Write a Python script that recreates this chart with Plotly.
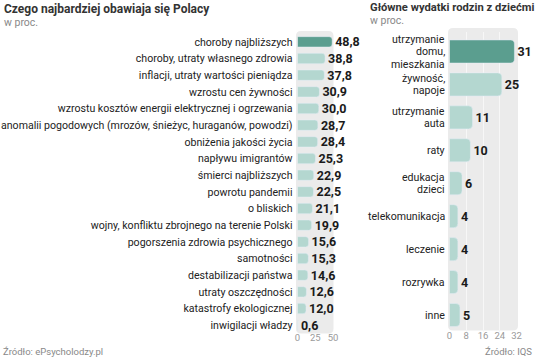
import plotly.graph_objects as go

# ---- data ----
left_categories = [
    "choroby najbliższych",
    "choroby, utraty własnego zdrowia",
    "inflacji, utraty wartości pieniądza",
    "wzrostu cen żywności",
    "wzrostu kosztów energii elektrycznej i ogrzewania",
    "anomalii pogodowych (mrozów, śnieżyc, huraganów, powodzi)",
    "obniżenia jakości życia",
    "napływu imigrantów",
    "śmierci najbliższych",
    "powrotu pandemii",
    "o bliskich",
    "wojny, konfliktu zbrojnego na terenie Polski",
    "pogorszenia zdrowia psychicznego",
    "samotności",
    "destabilizacji państwa",
    "utraty oszczędności",
    "katastrofy ekologicznej",
    "inwigilacji władzy",
]
left_values = [48.8, 38.8, 37.8, 30.9, 30.0, 28.7, 28.4, 25.3, 22.9, 22.5,
               21.1, 19.9, 15.6, 15.3, 14.6, 12.6, 12.0, 0.6]
left_ticks = [0, 25, 50]

right_categories = [
    "utrzymanie<br>domu,<br>mieszkania",
    "żywność,<br>napoje",
    "utrzymanie<br>auta",
    "raty",
    "edukacja<br>dzieci",
    "telekomunikacja",
    "leczenie",
    "rozrywka",
    "inne",
]
right_values = [31, 25, 11, 10, 6, 4, 4, 4, 5]
right_ticks = [0, 8, 16, 24, 32]

# ---- style ----
W, H = 536, 357
FONT = "Roboto, Liberation Sans, sans-serif"
DARK = "#5b9e8f"
LIGHT = "#b4d7d0"
BG = "#ebebeb"
LABEL_SIZE = 10.6
LINE_GAP = 12.5


def fmt(v):
    return f"{v:.1f}".replace(".", ",")


def px_x(p):
    return p / W


def px_y(p):
    return 1 - p / H


fig = go.Figure()

fig.add_trace(go.Bar(
    x=left_values, y=left_categories, orientation="h",
    marker=dict(color=[DARK] + [LIGHT] * (len(left_values) - 1), cornerradius=3),
    width=0.62,
    text=[fmt(v) for v in left_values], textposition="outside",
    textfont=dict(family=FONT, size=12.5, color="#1a1a1a", weight="bold"),
    constraintext="none", cliponaxis=False,
    xaxis="x", yaxis="y", hoverinfo="skip",
))

fig.add_trace(go.Bar(
    x=right_values, y=right_categories, orientation="h",
    marker=dict(color=[DARK] + [LIGHT] * (len(right_values) - 1), cornerradius=4),
    width=0.7,
    text=[str(v) for v in right_values], textposition="outside",
    textfont=dict(family=FONT, size=12.5, color="#1a1a1a", weight="bold"),
    constraintext="none", cliponaxis=False,
    xaxis="x2", yaxis="y2", hoverinfo="skip",
))

# domains (pixel-based)
Lx0, Lx1 = 297.5, 333
Ly0, Ly1 = 33.5, 333.5
Rx0, Rx1 = 449.5, 516.5
Ry0, Ry1 = 31.5, 331.5


def rounded(x0, y0, x1, y1, r):
    X = lambda v: f"{px_x(v):.5f}"
    Y = lambda v: f"{px_y(v):.5f}"
    return (f"M {X(x0+r)},{Y(y0)} L {X(x1-r)},{Y(y0)} Q {X(x1)},{Y(y0)} {X(x1)},{Y(y0+r)} "
            f"L {X(x1)},{Y(y1-r)} Q {X(x1)},{Y(y1)} {X(x1-r)},{Y(y1)} "
            f"L {X(x0+r)},{Y(y1)} Q {X(x0)},{Y(y1)} {X(x0)},{Y(y1-r)} "
            f"L {X(x0)},{Y(y0+r)} Q {X(x0)},{Y(y0)} {X(x0+r)},{Y(y0)} Z")


shapes = [
    dict(type="path", path=rounded(Lx0 - 1.5, Ly0 - 2.5, Lx1 + 0.5, Ly1, 5), xref="paper", yref="paper",
         fillcolor=BG, line=dict(width=0), layer="below"),
    dict(type="path", path=rounded(Rx0 - 1.5, Ry0 - 3.5, Rx1 + 1.5, Ry1 - 1, 5), xref="paper", yref="paper",
         fillcolor=BG, line=dict(width=0), layer="below"),
]

xcommon = dict(showline=False, zeroline=False, ticks="", automargin=False, fixedrange=True,
               tickfont=dict(family=FONT, size=9.5, color="#9a9a9a"), ticklabelstandoff=-3,
               gridcolor="#f7f7f7", gridwidth=1)
ycommon = dict(showline=False, zeroline=False, ticks="", automargin=False, fixedrange=True,
               showgrid=False, ticklabelstandoff=4, autorange="reversed",
               tickfont=dict(family=FONT, size=LABEL_SIZE, color="#222222"))

annotations = [
    dict(text="<b>Czego najbardziej obawiaja się Polacy</b>", x=px_x(2), y=px_y(9),
         xref="paper", yref="paper", xanchor="left", yanchor="middle", showarrow=False,
         font=dict(family=FONT, size=12, color="#333333")),
    dict(text="w proc.", x=px_x(2), y=px_y(22), xref="paper", yref="paper",
         xanchor="left", yanchor="middle", showarrow=False,
         font=dict(family=FONT, size=10.5, color="#888888")),
    dict(text="<b>Główne wydatki rodzin z dziećmi</b>", x=px_x(368), y=px_y(7),
         xref="paper", yref="paper", xanchor="left", yanchor="middle", showarrow=False,
         font=dict(family=FONT, size=11.2, color="#333333")),
    dict(text="w proc.", x=px_x(368), y=px_y(20), xref="paper", yref="paper",
         xanchor="left", yanchor="middle", showarrow=False,
         font=dict(family=FONT, size=10.5, color="#888888")),
    dict(text="Źródło: ePsycholodzy.pl", x=px_x(1), y=px_y(351), xref="paper", yref="paper",
         xanchor="left", yanchor="middle", showarrow=False,
         font=dict(family=FONT, size=9.5, color="#888888")),
    dict(text="Źródło: IQS", x=px_x(534), y=px_y(351), xref="paper", yref="paper",
         xanchor="right", yanchor="middle", showarrow=False,
         font=dict(family=FONT, size=9.5, color="#888888")),
]

# right-chart category labels, one annotation per line for tight leading
for cat in right_categories:
    lines = cat.split("<br>")
    n = len(lines)
    for i, line in enumerate(lines):
        annotations.append(dict(
            text=line, x=px_x(Rx0 - 4), xref="paper", y=cat, yref="y2",
            xanchor="right", yanchor="middle", showarrow=False, borderpad=0,
            yshift=((n - 1) / 2 - i) * LINE_GAP,
            font=dict(family=FONT, size=LABEL_SIZE, color="#222222"),
        ))

fig.update_layout(
    width=W, height=H, margin=dict(l=0, r=0, t=0, b=0, autoexpand=False),
    paper_bgcolor="white", plot_bgcolor="rgba(0,0,0,0)",
    showlegend=False,
    font=dict(family=FONT, color="#222222"),
    shapes=shapes,
    xaxis=dict(domain=[px_x(Lx0), px_x(Lx1)], range=[0, 50], tickvals=left_ticks, anchor="y",
               showgrid=False, **xcommon),
    yaxis=dict(domain=[px_y(Ly1), px_y(Ly0)], anchor="x", **ycommon),
    xaxis2=dict(domain=[px_x(Rx0), px_x(Rx1)], range=[0, 32], tickvals=right_ticks, anchor="y2",
                showgrid=True, **xcommon),
    yaxis2=dict(domain=[px_y(Ry1), px_y(Ry0)], anchor="x2", showticklabels=False, **ycommon),
    annotations=annotations,
)

fig.write_html("out.html", config={"displayModeBar": False},
               post_script="document.body.style.margin='0';document.body.style.overflow='hidden';")
